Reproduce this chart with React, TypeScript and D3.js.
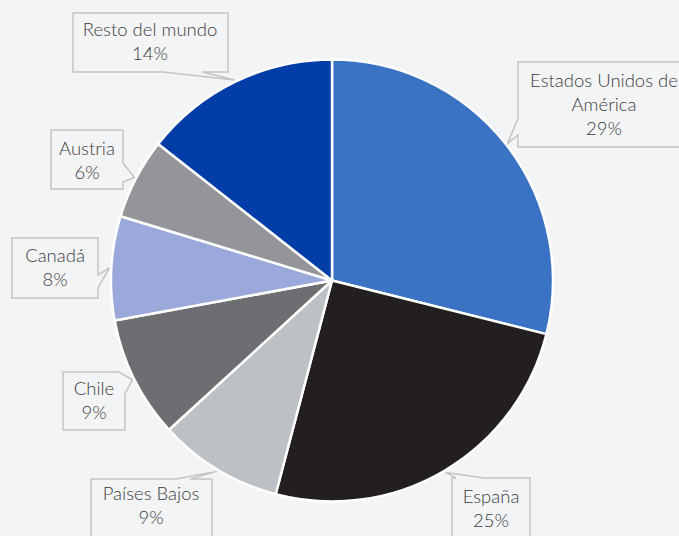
import React from "react";
import * as d3 from "d3";

const countries = ["Estados Unidos de América", "España", "Países Bajos", "Chile", "Canadá", "Austria", "Resto del mundo"];
const shares = [28.9, 25.2, 9.1, 8.9, 7.6, 5.9, 14.4];
const colors = ["#3a72c4", "#231f20", "#bcc1c6", "#6d6e71", "#9aa8dc", "#939598", "#003da6"];
const labelLines = [["Estados Unidos de", "América"], ["España"], ["Países Bajos"], ["Chile"], ["Canadá"], ["Austria"], ["Resto del mundo"]];

// layout of callout boxes: [x0, y0, x1, y1], tail side and base positions
type Side = "top" | "right" | "bottom" | "left" | "tr";
const boxes: { box: number[]; side: Side; a: number; b: number; cx: number; base: number }[] = [
  { box: [518, 62, 690, 147], side: "left", a: 135, b: 118, cx: 604, base: 87 },
  { box: [452, 478, 530, 545], side: "top", a: 456, b: 484, cx: 491, base: 503 },
  { box: [91, 479, 212, 545], side: "top", a: 176, b: 190, cx: 151, base: 500 },
  { box: [63, 372, 125, 430], side: "tr", a: 119, b: 394, cx: 94, base: 395 },
  { box: [12, 238, 98, 298], side: "right", a: 275, b: 288, cx: 55, base: 262 },
  { box: [51, 130, 123, 189], side: "right", a: 163, b: 182, cx: 87, base: 155 },
  { box: [73, 13, 228, 72], side: "bottom", a: 202, b: 163, cx: 150, base: 36 },
];

const W = 679, H = 536;
const CX = 332, CY = 280.5, R = 221;

function calloutPath(box: number[], side: Side, a: number, b: number, apex: number[]) {
  const [x0, y0, x1, y1] = box;
  const TL = [x0, y0], TR = [x1, y0], BR = [x1, y1], BL = [x0, y1];
  let pts: number[][];
  if (side === "top") pts = [TL, [a, y0], apex, [b, y0], TR, BR, BL];
  else if (side === "right") pts = [TL, TR, [x1, a], apex, [x1, b], BR, BL];
  else if (side === "bottom") pts = [TL, TR, BR, [a, y1], apex, [b, y1], BL];
  else if (side === "left") pts = [TL, TR, BR, BL, [x0, a], apex, [x0, b]];
  else pts = [TL, [a, y0], apex, [x1, b], BR, BL];
  return d3.line()(pts as [number, number][]) + "Z";
}

export default function App() {
  const pie = d3.pie<number>().sort(null).value((d) => d)(shares);
  const arc = d3.arc<d3.PieArcDatum<number>>().innerRadius(0).outerRadius(R);
  const fmt = (v: number) => `${Math.round(v)}%`;
  return (
    <svg width={W} height={H} style={{ position: "absolute", left: 0, top: 0, display: "block" }}
      fontFamily="Lato, 'Open Sans', sans-serif">
      <rect x={0} y={0} width={W} height={H} fill="#f3f4f6" />
      <g transform={`translate(${CX},${CY})`}>
        {pie.map((p, i) => (
          <path key={i} d={arc(p) || ""} fill={colors[i]} stroke="#ffffff" strokeWidth={2.5} strokeLinejoin="round" />
        ))}
      </g>
      {pie.map((p, i) => {
        const mid = (p.startAngle + p.endAngle) / 2;
        const rr = R + 2;
        const apex = [CX + rr * Math.sin(mid), CY - rr * Math.cos(mid)];
        const L = boxes[i];
        const lines = [...labelLines[i], fmt(shares[i])];
        return (
          <g key={"l" + i}>
            <path d={calloutPath(L.box, L.side, L.a, L.b, apex)} fill="#f3f4f6" stroke="#c4c4c4" strokeWidth={1.5} />
            {lines.map((t, j) => (
              <text key={j} x={L.cx} y={L.base + j * 24} textAnchor="middle" fontSize={18.5} fontWeight={300} fill="#3c3c3c">
                {t}
              </text>
            ))}
          </g>
        );
      })}
    </svg>
  );
}
